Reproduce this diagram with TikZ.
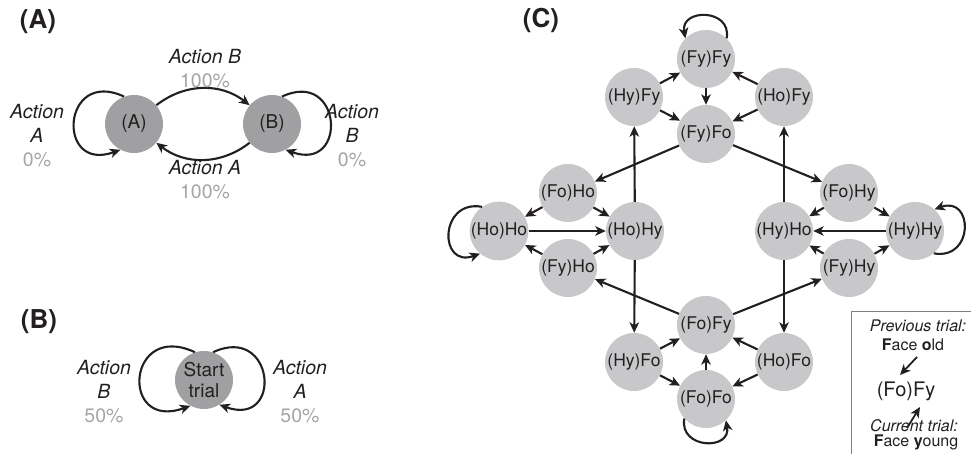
\documentclass[tikz,border=0pt]{standalone}
\usepackage{fontspec}
\setmainfont{TeX Gyre Heros}
\usetikzlibrary{arrows.meta,positioning,calc}
\definecolor{stategray}{RGB}{160,160,162}
\definecolor{cellgray}{RGB}{200,200,202}
\definecolor{pctgray}{RGB}{165,165,165}
\definecolor{inkblack}{RGB}{35,31,32}
\tikzset{
  arr/.style={-{Stealth[length=10.5pt,width=9.5pt,inset=3pt]}, line width=2.1pt, draw=inkblack},
  state/.style={circle, fill=stategray, minimum size=58pt, inner sep=0pt, text=inkblack, align=center,
    font=\fontsize{19}{21.5}\selectfont},
  cell/.style={circle, fill=cellgray, minimum size=58pt, inner sep=0pt, text=inkblack,
    font=\fontsize{17.5}{19}\selectfont},
  actlabel/.style={align=center, text=inkblack, font=\fontsize{19.5}{24}\selectfont\itshape},
  panel/.style={text=inkblack, font=\fontsize{26}{30}\selectfont\bfseries},
  legtext/.style={inner sep=0pt, text=inkblack, font=\fontsize{16}{18}\selectfont}
}

\begin{document}
\begin{tikzpicture}[x=1pt,y=1pt]
\useasboundingbox (0,0) rectangle (971,454);

\node[panel] (panelA) at (38,432) {(A)};
\node[panel] (panelB) at (39,132) {(B)};
\node[panel] (panelC) at (541,434) {(C)};

% (A)
\node[state] (stA) at (134,330) {(A)};
\node[state] (stB) at (272,330) {(B)};
\draw[arr] (stA.40) to[out=38,in=142] (stB.140);
\draw[arr] (stB.-140) to[out=-142,in=-38] (stA.-40);
\draw[arr] (stA.110) to[out=155,in=200,looseness=3.3] (stA.242);
\draw[arr] (stB.70) to[out=25,in=-20,looseness=3.2] (stB.-62);
\node[actlabel] (labAB) at (205,385) {Action B\\{\upshape\color{pctgray}100\%}};
\node[actlabel] (labBA) at (205,274) {Action A\\{\upshape\color{pctgray}100\%}};
\node[actlabel] (labAA) at (37,318) {Action\\A\\{\upshape\color{pctgray}0\%}};
\node[actlabel] (labBB) at (352,318) {Action\\B\\{\upshape\color{pctgray}0\%}};

% (B)
\node[state] (start) at (204,74) {Start\\trial};
\draw[arr] (start.108) to[out=155,in=200,looseness=3.6] (start.242);
\draw[arr] (start.72) to[out=25,in=-20,looseness=3.3] (start.-58);
\node[actlabel] (labSB) at (104,62) {Action\\B\\{\upshape\color{pctgray}50\%}};
\node[actlabel] (labSA) at (300,62) {Action\\A\\{\upshape\color{pctgray}50\%}};

% (C)
\node[cell] (FyFy) at (706,395) {(Fy)Fy};
\node[cell] (HyFy) at (634,357) {(Hy)Fy};
\node[cell] (HoFy) at (784,357) {(Ho)Fy};
\node[cell] (FyFo) at (706,320) {(Fy)Fo};
\node[cell] (FoHo) at (568,261) {(Fo)Ho};
\node[cell] (HoHo) at (499,223) {(Ho)Ho};
\node[cell] (HoHy) at (635,223) {(Ho)Hy};
\node[cell] (FyHo) at (568,186) {(Fy)Ho};
\node[cell] (FoHy) at (849,261) {(Fo)Hy};
\node[cell] (HyHo) at (784,223) {(Hy)Ho};
\node[cell] (HyHy) at (915,223) {(Hy)Hy};
\node[cell] (FyHy) at (849,186) {(Fy)Hy};
\node[cell] (FoFy) at (706,129) {(Fo)Fy};
\node[cell] (HyFo) at (634,92) {(Hy)Fo};
\node[cell] (HoFo) at (784,92) {(Ho)Fo};
\node[cell] (FoFo) at (706,55) {(Fo)Fo};

\draw[arr] (HyFy) -- (FyFy);
\draw[arr] (HyFy) -- (FyFo);
\draw[arr] (HoFy) -- (FyFy);
\draw[arr] (HoFy) -- (FyFo);
\draw[arr] (FyFy) -- (FyFo);
\draw[arr] (FyFo) -- (FoHo);
\draw[arr] (FyFo) -- (FoHy);
\draw[arr] (FoHo) -- (HoHo);
\draw[arr] (FoHo) -- (HoHy);
\draw[arr] (FyHo) -- (HoHo);
\draw[arr] (FyHo) -- (HoHy);
\draw[arr] (HoHo) -- (HoHy);
\draw[arr] (HoHy) -- (HyFy);
\draw[arr] (HoHy) -- (HyFo);
\draw[arr] (FoHy) -- (HyHo);
\draw[arr] (FoHy) -- (HyHy);
\draw[arr] (FyHy) -- (HyHo);
\draw[arr] (FyHy) -- (HyHy);
\draw[arr] (HyHy) -- (HyHo);
\draw[arr] (HyHo) -- (HoFy);
\draw[arr] (HyHo) -- (HoFo);
\draw[arr] (FoFy) -- (FyHo);
\draw[arr] (FoFy) -- (FyHy);
\draw[arr] (HyFo) -- (FoFy);
\draw[arr] (HyFo) -- (FoFo);
\draw[arr] (HoFo) -- (FoFy);
\draw[arr] (HoFo) -- (FoFo);
\draw[arr] (FoFo) -- (FoFy);
\draw[arr] (FyFy.45) to[out=80,in=100,looseness=1.9] (FyFy.135);
\draw[arr] (HoHo.125) to[out=170,in=200,looseness=2.4] (HoHo.230);
\draw[arr] (HyHy.-50) to[out=-10,in=20,looseness=2.4] (HyHy.48);
\draw[arr] (FoFo.222) to[out=260,in=280,looseness=1.9] (FoFo.-47);

% legend
\draw[line width=1pt, draw=gray] (971,142) -| (851,0);
\node[legtext] (prev) at (918,128) {\itshape Previous trial:};
\node[legtext] (fold) at (913,109) {\textbf{F}ace \textbf{o}ld};
\node[legtext, font=\fontsize{20}{22}\selectfont] (example) at (906,63) {(Fo)Fy};
\node[legtext] (cur) at (914,28) {\itshape Current trial:};
\node[legtext] (fyoung) at (916,12) {\textbf{F}ace \textbf{y}oung};
\draw[arr, line width=1.8pt] ($(fold)+(4,-12)$) -- ($(example)+(-6,16)$);
\draw[arr, line width=1.8pt] ($(cur)+(-7,-2)$) -- ($(example)+(14,-16)$);
\end{tikzpicture}
\end{document}
